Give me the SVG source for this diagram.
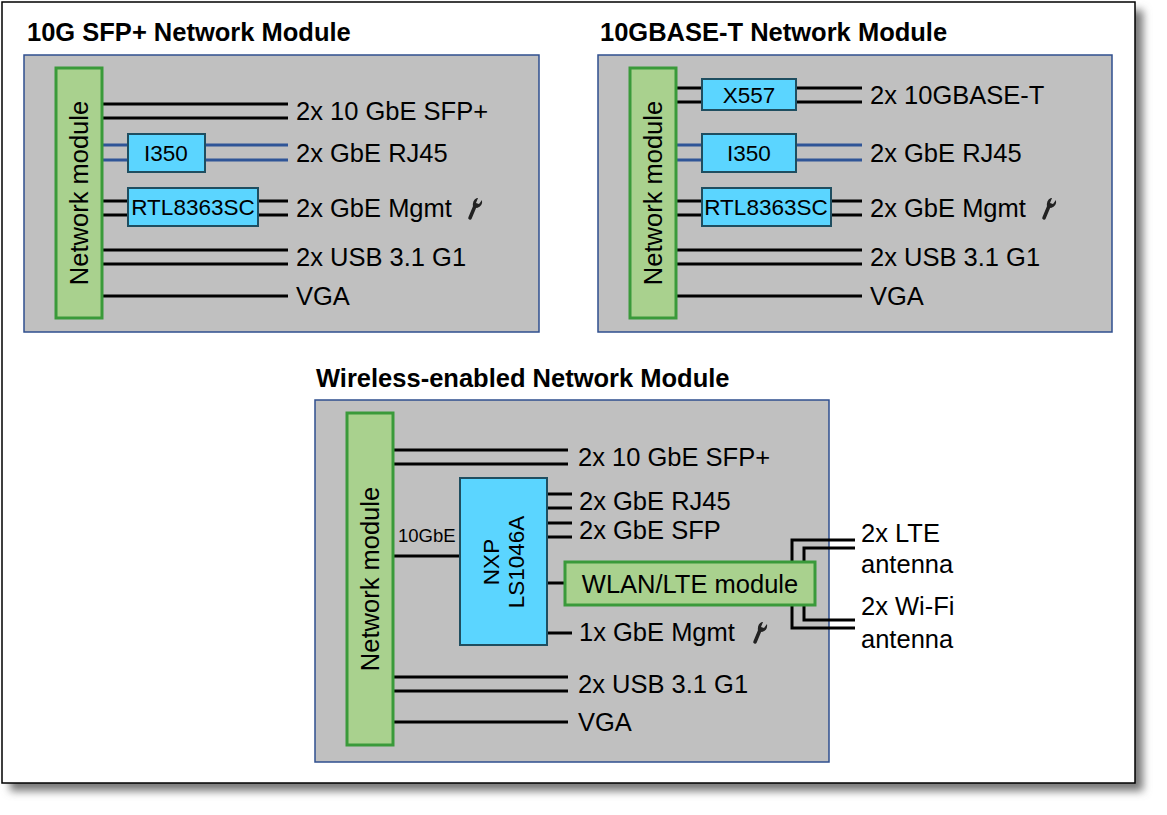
<svg xmlns="http://www.w3.org/2000/svg" width="1167" height="815" viewBox="0 0 1167 815">
<defs>
<filter id="sh" x="-5%" y="-5%" width="110%" height="110%"><feGaussianBlur stdDeviation="4"/></filter>
<g id="wr"><path d="M-4,10 L1,-2" stroke="#222" stroke-width="3.5" stroke-linecap="round" fill="none"/><path d="M-1,-1 Q-2,-8 3,-10 L4,-10 L2,-5 L5,-4 L8,-8 Q9,-2 3,0 Z" fill="#222"/></g>
</defs>
<style>
text{font-family:"Liberation Sans",Arial,sans-serif;fill:#000}
.t{font-size:25.5px;font-weight:bold}
.l{font-size:25.5px}
.c{font-size:22.5px}
.frame{fill:#c0c0c0;stroke:#2f4f8f;stroke-width:1.5}
.nm{fill:#a9d18e;stroke:#3a9a3a;stroke-width:3}
.chip{fill:#5bd5ff;stroke:#1f4e60;stroke-width:2}
.k{stroke:#000;stroke-width:3;fill:none}
.b{stroke:#2f5597;stroke-width:3;fill:none}
</style>
<rect x="10" y="10" width="1133" height="781" fill="#777" filter="url(#sh)"/>
<rect x="2" y="2" width="1133" height="781" fill="#fff" stroke="#000" stroke-width="1.5"/>
<text class="t" x="27" y="41">10G SFP+ Network Module</text>
<text class="t" x="600" y="41">10GBASE-T Network Module</text>
<text class="t" x="316" y="387">Wireless-enabled Network Module</text>
<g id="panel1">
<rect class="frame" x="24" y="55" width="515" height="277"/>
<g id="conn1">
<path class="k" d="M102,104H288M102,118H288M102,201H288M102,215H288M102,250H288M102,264H288M102,296H288"/>
<path class="b" d="M102,145H288M102,160H288"/>
</g>
<g id="nm1"><rect class="nm" x="56" y="68" width="46" height="250"/><text class="l" transform="translate(88,193) rotate(-90)" text-anchor="middle">Network module</text></g>
<g id="i350a"><rect class="chip" x="128" y="134" width="77" height="38"/><text class="c" x="166" y="161" text-anchor="middle">I350</text></g>
<g id="rtla"><rect class="chip" x="128" y="188" width="130" height="38"/><text class="c" x="193" y="215" text-anchor="middle">RTL8363SC</text></g>
<text class="l" x="296" y="120">2x 10 GbE SFP+</text>
<text class="l" x="296" y="162">2x GbE RJ45</text>
<text class="l" x="296" y="217">2x GbE Mgmt</text>
<use href="#wr" x="474" y="208"/>
<text class="l" x="296" y="266">2x USB 3.1 G1</text>
<text class="l" x="296" y="305">VGA</text>
</g>
<g id="panel2">
<rect class="frame" x="598" y="55" width="514" height="277"/>
<g id="conn2">
<path class="k" d="M676,88H862M676,102H862M676,201H862M676,215H862M676,250H862M676,264H862M676,296H862"/>
<path class="b" d="M676,145H862M676,160H862"/>
</g>
<g id="nm2"><rect class="nm" x="630" y="68" width="46" height="250"/><text class="l" transform="translate(662,193) rotate(-90)" text-anchor="middle">Network module</text></g>
<g id="x557"><rect class="chip" x="702" y="79" width="94" height="31"/><text class="c" x="749" y="103" text-anchor="middle">X557</text></g>
<g id="i350b"><rect class="chip" x="702" y="134" width="94" height="38"/><text class="c" x="749" y="161" text-anchor="middle">I350</text></g>
<g id="rtlb"><rect class="chip" x="702" y="188" width="129" height="38"/><text class="c" x="766" y="215" text-anchor="middle">RTL8363SC</text></g>
<text class="l" x="870" y="104">2x 10GBASE-T</text>
<text class="l" x="870" y="162">2x GbE RJ45</text>
<text class="l" x="870" y="217">2x GbE Mgmt</text>
<use href="#wr" x="1048" y="208"/>
<text class="l" x="870" y="266">2x USB 3.1 G1</text>
<text class="l" x="870" y="305">VGA</text>
</g>
<g id="panel3">
<rect class="frame" x="315" y="400" width="514" height="362"/>
<g id="conn3">
<path class="k" d="M393,450H568M393,464H568M393,556H460M547,494H572M547,508H572M547,523H572M547,537H572M547,583H565M547,633H572M393,677H568M393,691H568M393,722H568"/>
<path class="k" d="M792,562V540H855M804,562V548H855M804,605V620H855M792,605V628H855"/>
</g>
<g id="nm3"><rect class="nm" x="347" y="413" width="46" height="332"/><text class="l" transform="translate(379,579) rotate(-90)" text-anchor="middle">Network module</text></g>
<g id="nxp"><rect class="chip" x="460" y="478" width="87" height="167"/><text class="c" transform="translate(499,562) rotate(-90)" text-anchor="middle"><tspan x="0" y="0">NXP</tspan><tspan x="0" y="25">LS1046A</tspan></text></g>
<g id="wlan"><rect class="nm" x="565" y="562" width="250" height="43"/><text class="l" x="690" y="593" text-anchor="middle">WLAN/LTE module</text></g>
<text x="398" y="542" style="font-size:18.5px">10GbE</text>
<text class="l" x="578" y="466">2x 10 GbE SFP+</text>
<text class="l" x="579" y="510">2x GbE RJ45</text>
<text class="l" x="579" y="539">2x GbE SFP</text>
<text class="l" x="579" y="641">1x GbE Mgmt</text>
<use href="#wr" x="759" y="632"/>
<text class="l" x="578" y="693">2x USB 3.1 G1</text>
<text class="l" x="578" y="731">VGA</text>
<text class="l" x="861" y="542">2x LTE</text>
<text class="l" x="861" y="573">antenna</text>
<text class="l" x="861" y="615">2x Wi-Fi</text>
<text class="l" x="861" y="648">antenna</text>
</g>
</svg>
